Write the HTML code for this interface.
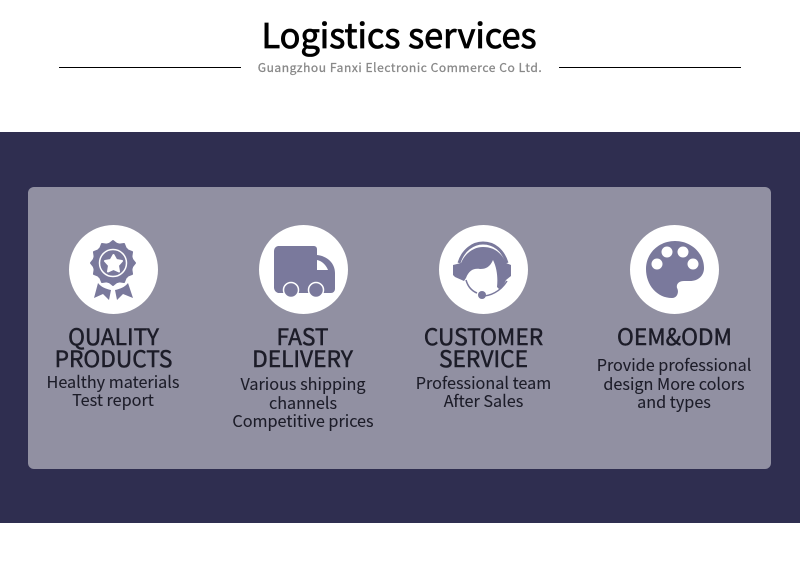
<!DOCTYPE html>
<html><head><meta charset="utf-8"><style>
html,body{margin:0;padding:0;background:#fff}
#p{position:relative;width:800px;height:567px;overflow:hidden;background:#fff;font-family:"Noto Sans CJK SC","Liberation Sans",sans-serif}
.t{position:absolute;white-space:nowrap;text-align:center;transform:translateX(-50%)}
.h{font-size:22.700px;line-height:22px;font-weight:400;color:#1c1c28;-webkit-text-stroke:.5px #1c1c28}
.b{font-size:16.200px;line-height:18.500px;font-weight:400;color:#1c1c28;-webkit-text-stroke:.1px #1c1c28}
.c{position:absolute;width:89px;height:89px;border-radius:50%;background:#fff;top:225px}
svg{position:absolute;left:0;top:0}
</style></head><body><div id="p">
<div class="t" style="left:399px;top:10px;font-size:34.300px;line-height:46px;font-weight:400;color:#000;-webkit-text-stroke:.85px #000">Logistics services</div>
<div style="position:absolute;left:59px;top:67px;width:182px;height:1px;background:#000"></div>
<div style="position:absolute;left:559px;top:67px;width:182px;height:1px;background:#000"></div>
<div class="t" style="left:400px;top:58px;font-size:12px;line-height:19px;font-weight:400;letter-spacing:.57px;color:#888;-webkit-text-stroke:.3px #888">Guangzhou Fanxi Electronic Commerce Co Ltd.</div>
<div style="position:absolute;left:0;top:132px;width:800px;height:391px;background:#2f2e50"></div>
<div style="position:absolute;left:28px;top:187px;width:743px;height:282px;border-radius:6px;background:#9190a2"></div>
<div class="c" style="left:69px"></div><div class="c" style="left:259px"></div><div class="c" style="left:439px"></div><div class="c" style="left:630px"></div>
<svg width="800" height="567" viewBox="0 0 800 567">
<g fill="#7a799c">
<!-- award -->
<circle cx="113" cy="263" r="20.500"/>
<g stroke="#7a799c" stroke-width="2" stroke-linejoin="round">
<path d="M113 241l5 4h-10z"/>
<path d="M113 241l5 4h-10z" transform="rotate(30 113 263)"/>
<path d="M113 241l5 4h-10z" transform="rotate(60 113 263)"/>
<path d="M113 241l5 4h-10z" transform="rotate(90 113 263)"/>
<path d="M113 241l5 4h-10z" transform="rotate(120 113 263)"/>
<path d="M113 241l5 4h-10z" transform="rotate(150 113 263)"/>
<path d="M113 241l5 4h-10z" transform="rotate(180 113 263)"/>
<path d="M113 241l5 4h-10z" transform="rotate(210 113 263)"/>
<path d="M113 241l5 4h-10z" transform="rotate(240 113 263)"/>
<path d="M113 241l5 4h-10z" transform="rotate(270 113 263)"/>
<path d="M113 241l5 4h-10z" transform="rotate(300 113 263)"/>
<path d="M113 241l5 4h-10z" transform="rotate(330 113 263)"/>
</g>
<path d="M98 283c3 4 8 6 13 7l-2 10-6-6-9 4z"/>
<path d="M128 283c-3 4-8 6-13 7l2 10 6-6 10 4z"/>
<!-- truck -->
<path d="M278 246h36a3 3 0 0 1 3 3v6c10 1 18 8 18 18v16a4 4 0 0 1-4 4h-53a6 6 0 0 1-4-5v-37a5 5 0 0 1 4-5z"/>
<!-- headset -->
<path d="M461 263C465 253 474 247 483 247C492 247 501 251 506 263L511 265L511 276L506 280C504 285 502 287 499 289L497 287C498 278 497 268 493 260C490 267 486 269 480 269C474 268 469 270 466 278L464 281L455 277L453 275L453 265Z"/>
<circle cx="482" cy="295" r="4"/>
<!-- palette -->
<path d="M675 241c16 0 29 12 29 27c0 8-6 13-14 13h-6c-5 0-8 3-7 7c2 3 1 10-5 10c-15 0-26-13-26-29c0-16 13-28 29-28z"/>
</g>
<g fill="none" stroke="#7a799c"><path stroke-width="3" d="M459 263C463 250 473 243 483 243C494 243 503 250 507 263"/><path stroke-width="1.500" d="M466 280C468 287 472 291 477 293"/><path stroke-width="1.500" d="M482 296C490 296 500 292 507 281"/></g>
<circle cx="113" cy="263" r="13.500" fill="none" stroke="#fff" stroke-width="1.500"/>
<path d="M113.500 255l2.800 5 5.700 1-4 4.500 1 6-5.500-2.500-5.500 2.500 1-6-4-4.500 5.700-1z" fill="#fff" stroke="#fff" stroke-linejoin="round" stroke-width="2"/>
<path d="M317 260c5 1 9 5 11 10h-11z" fill="#fff"/>
<g fill="#7a799c" stroke="#fff" stroke-width="1.500"><circle cx="291" cy="290" r="7.500"/><circle cx="316" cy="290" r="7.500"/></g>
<g fill="#fff"><circle cx="657" cy="264" r="5.500"/><circle cx="667" cy="252" r="5.500"/><circle cx="683" cy="252" r="5.500"/><circle cx="693" cy="264" r="5.500"/></g>
</svg>
<div class="t h" style="left:113.500px;top:325px">QUALITY<br>PRODUCTS</div>
<div class="t h" style="left:302.500px;top:325px">FAST<br>DELIVERY</div>
<div class="t h" style="left:483.500px;top:325px">CUSTOMER<br>SERVICE</div>
<div class="t h" style="left:674.500px;top:325px">OEM&amp;ODM</div>
<div class="t b" style="left:113px;top:372px;line-height:18px">Healthy materials<br>Test report</div>
<div class="t b" style="left:303px;top:374px">Various shipping<br>channels<br>Competitive prices</div>
<div class="t b" style="left:483.500px;top:374px;line-height:17.500px">Professional team<br>After Sales</div>
<div class="t b" style="left:674px;top:355px">Provide professional<br>design More colors<br>and types</div>
</div></body></html>
